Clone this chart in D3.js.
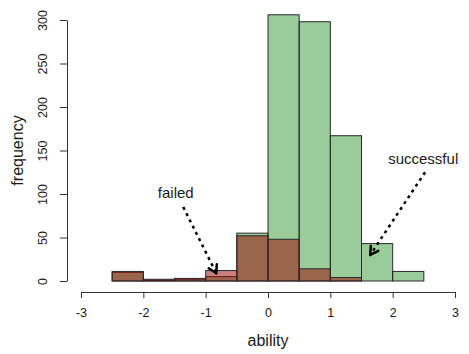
<!DOCTYPE html>
<html>
<head>
<meta charset="utf-8">
<script src="https://cdn.jsdelivr.net/npm/d3@7"></script>
<style>
  body { margin: 0; background: #fff; }
  text { font-family: "Liberation Sans", Arial, Helvetica, sans-serif; fill: #1a1a1a; }
</style>
</head>
<body>
<div id="chart"></div>
<script>
// bin edges shared by both histograms
const binStarts = [-2.5, -2, -1.5, -1, -0.5, 0, 0.5, 1, 1.5, 2];
const binWidth = 0.5;
const successful = [10, 1, 2, 5, 55, 306, 298, 167, 43, 11];
const failed = [11, 2, 3, 12, 52, 48, 14, 4, 0, 0];
const xTicks = [-3, -2, -1, 0, 1, 2, 3];
const yTicks = [0, 50, 100, 150, 200, 250, 300];

// annotations: [label, labelX, labelY, fromX, fromY, toX, toY]
const notes = [
  ["failed", -1.48, 102, -1.36, 85, -0.83, 9],
  ["successful", 2.49, 141, 2.52, 125, 1.64, 30]
];

const width = 469, height = 354;

const svg = d3.select("#chart")
  .append("svg")
  .attr("width", width)
  .attr("height", height);

const x = d3.scaleLinear().domain([-3, 3]).range([81, 455]);
const y = d3.scaleLinear().domain([0, 300]).range([281, 20]);

const barStroke = "#2a2a2a";

function drawBars(counts, fill) {
  svg.append("g")
    .selectAll("rect")
    .data(binStarts.map((s, i) => ({ s, c: counts[i] })))
    .enter()
    .append("rect")
    .attr("x", (d) => x(d.s))
    .attr("y", (d) => y(d.c))
    .attr("width", (d) => x(d.s + binWidth) - x(d.s))
    .attr("height", (d) => y(0) - y(d.c))
    .style("fill", fill)
    .style("stroke", barStroke)
    .style("stroke-width", 1);
}

drawBars(successful, "rgba(0,128,0,0.4)");
drawBars(failed, "rgba(153,0,0,0.5)");

// x axis (plain hyphen minus like R)
const xAxis = svg.append("g")
  .attr("transform", "translate(0,292)")
  .call(d3.axisBottom(x).tickValues(xTicks).tickSize(6).tickSizeOuter(0).tickFormat((d) => String(d)));
xAxis.selectAll("path, line").style("stroke", "#333");
xAxis.selectAll("text").style("font-size", "12.5px").attr("dy", "1.25em");

// y axis
const yAxis = svg.append("g")
  .attr("transform", "translate(67,0)")
  .call(d3.axisLeft(y).tickValues(yTicks).tickSize(7).tickSizeOuter(0));
yAxis.selectAll("path, line").style("stroke", "#333");
yAxis.selectAll("text")
  .style("font-size", "12.5px")
  .attr("text-anchor", "middle")
  .attr("x", 0)
  .attr("dy", 0)
  .attr("transform", "translate(-24,0) rotate(-90)")
  .attr("dominant-baseline", "central");

svg.append("text")
  .attr("x", x(0))
  .attr("y", 346)
  .attr("text-anchor", "middle")
  .style("font-size", "16px")
  .text("ability");

svg.append("text")
  .attr("transform", `translate(23,${y(150)}) rotate(-90)`)
  .attr("text-anchor", "middle")
  .style("font-size", "16px")
  .text("frequency");

// annotation arrows
notes.forEach(([label, lx, ly, x1, y1, x2, y2]) => {
  svg.append("text")
    .attr("x", x(lx))
    .attr("y", y(ly))
    .attr("text-anchor", "middle")
    .attr("dominant-baseline", "central")
    .style("font-size", "15px")
    .text(label);

  const px1 = x(x1), py1 = y(y1), px2 = x(x2), py2 = y(y2);
  svg.append("line")
    .attr("x1", px1).attr("y1", py1)
    .attr("x2", px2).attr("y2", py2)
    .style("stroke", "#000")
    .style("stroke-width", 2.5)
    .style("stroke-dasharray", "3,4");

  const ang = Math.atan2(py2 - py1, px2 - px1);
  const len = 9, spread = Math.PI / 6;
  [ang + Math.PI - spread, ang + Math.PI + spread].forEach((a) => {
    svg.append("line")
      .attr("x1", px2).attr("y1", py2)
      .attr("x2", px2 + len * Math.cos(a))
      .attr("y2", py2 + len * Math.sin(a))
      .style("stroke", "#000")
      .style("stroke-width", 2.5)
      .style("stroke-linecap", "round");
  });
});
</script>
</body>
</html>
